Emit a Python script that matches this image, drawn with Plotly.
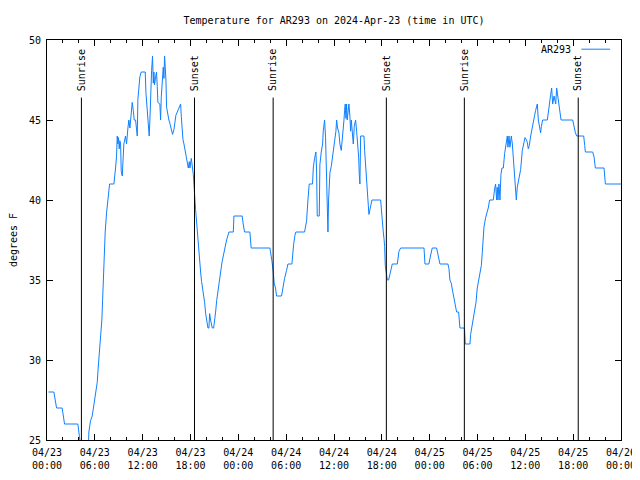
import plotly.graph_objects as go
import pandas as pd

# ---------------- data ----------------
start_time = "2024-04-23 00:00"
end_time = "2024-04-26 00:00"

# hours since 2024-04-23 00:00 UTC
hours = [
    0.19, 0.86, 1.03, 1.20, 1.90, 2.07, 2.20, 3.87, 4.00, 4.12, 4.25, 5.17,
    5.25, 5.46, 5.67, 5.80, 6.00, 6.13, 6.30, 6.42, 6.55, 6.67, 6.80, 6.88,
    6.97, 7.05, 7.13, 7.30, 7.47, 7.64, 7.76, 7.85, 8.39, 8.47, 8.60, 8.72,
    8.81, 8.89, 8.97, 9.06, 9.14, 9.23, 9.31, 9.44, 9.52, 9.64, 9.85, 9.98,
    10.15, 10.27, 10.40, 10.48, 10.61, 10.69, 10.82, 10.94, 11.11, 11.19, 11.32, 11.40,
    11.53, 11.65, 11.82, 12.32, 12.41, 12.57, 12.70, 12.82, 12.91, 12.99, 13.12, 13.24,
    13.33, 13.41, 13.49, 13.62, 13.74, 13.83, 13.91, 14.16, 14.25, 14.33, 14.46, 14.58,
    14.67, 14.75, 14.83, 14.92, 15.00, 15.17, 15.29, 15.41, 15.58, 15.75, 15.92, 16.05,
    16.17, 16.34, 16.55, 16.76, 16.85, 16.93, 17.05, 17.18, 17.31, 17.43, 17.60, 17.72,
    17.85, 17.93, 18.10, 18.22, 18.35, 18.43, 18.51, 18.56, 18.64, 18.77, 18.93, 19.00,
    19.14, 19.27, 19.39, 19.52, 19.64, 19.77, 19.90, 20.02, 20.19, 20.31, 20.40, 20.52,
    20.73, 20.90, 20.98, 21.15, 21.28, 21.44, 21.61, 21.78, 21.95, 22.11, 22.32, 22.53,
    22.82, 23.37, 23.45, 24.48, 24.61, 24.78, 25.45, 25.53, 25.61, 27.96, 28.04, 28.21,
    28.38, 28.50, 28.67, 28.79, 29.42, 29.55, 29.67, 29.80, 30.05, 30.22, 30.72, 30.80,
    30.93, 31.10, 31.22, 32.31, 32.43, 32.56, 32.73, 32.89, 33.31, 33.40, 33.56, 33.73,
    33.81, 33.90, 34.15, 34.23, 34.40, 34.57, 34.65, 34.82, 34.94, 35.07, 35.20, 35.24,
    35.32, 35.49, 35.66, 35.78, 35.91, 36.07, 36.24, 36.33, 36.45, 36.62, 36.74, 36.91,
    37.08, 37.25, 37.33, 37.41, 37.50, 37.58, 37.66, 37.75, 37.87, 38.00, 38.08, 38.17,
    38.29, 38.42, 38.54, 38.71, 38.84, 39.00, 39.09, 39.17, 39.25, 39.34, 39.76, 39.84,
    39.97, 40.09, 40.18, 40.26, 40.38, 40.51, 40.59, 40.76, 41.85, 41.97, 42.10, 42.18,
    42.27, 42.35, 42.43, 42.56, 42.69, 42.85, 42.94, 43.02, 43.10, 43.31, 43.94, 44.02,
    44.15, 44.36, 47.29, 47.41, 47.90, 48.10, 48.32, 48.87, 49.04, 49.29, 50.29, 50.42,
    50.54, 50.71, 50.88, 51.04, 51.21, 51.38, 51.63, 51.80, 52.30, 52.38, 52.47, 53.05,
    53.14, 53.35, 53.47, 53.64, 53.81, 53.97, 54.18, 54.31, 54.48, 54.60, 54.68, 54.81,
    55.02, 55.23, 55.35, 55.52, 55.98, 56.15, 56.27, 56.40, 56.48, 56.57, 56.69, 56.82,
    56.94, 57.07, 57.24, 57.40, 57.57, 57.74, 57.82, 57.95, 58.07, 58.24, 58.37, 58.49,
    58.66, 58.78, 58.87, 58.99, 59.12, 59.24, 59.41, 59.62, 59.83, 59.96, 60.08, 60.25,
    60.37, 60.50, 60.67, 60.83, 61.00, 61.17, 61.29, 61.42, 61.50, 61.63, 61.80, 61.92,
    62.01, 62.17, 62.76, 62.89, 63.05, 63.18, 63.30, 63.43, 63.60, 63.81, 63.93, 64.06,
    64.22, 64.35, 64.48, 65.94, 66.11, 66.28, 66.44, 67.32, 67.45, 67.53, 68.45, 68.62,
    68.78, 69.87, 70.04, 72.00,
]

temps_f = [
    28.0, 28.0, 27.5, 27.0, 27.0, 26.5, 26.0, 26.0, 25.5, 25.0, 24.0, 24.0,
    25.5, 26.2, 26.5, 27.0, 27.5, 28.0, 28.6, 29.5, 30.3, 31.0, 31.6, 32.5,
    33.7, 35.0, 36.3, 38.0, 39.2, 39.9, 40.5, 41.0, 41.0, 41.3, 42.0, 42.7,
    44.0, 43.5, 43.9, 43.2, 43.7, 43.5, 41.8, 41.5, 43.0, 43.5, 44.0, 43.5,
    44.5, 45.0, 44.5, 45.0, 45.6, 46.1, 45.6, 45.0, 45.0, 44.5, 44.0, 46.3,
    47.0, 47.7, 48.0, 48.0, 46.7, 45.8, 45.0, 44.0, 45.0, 46.6, 48.1, 49.0,
    47.3, 48.0, 47.2, 47.7, 48.0, 47.1, 46.1, 46.0, 45.0, 46.4, 47.3, 48.3,
    47.6, 49.0, 48.3, 47.5, 45.8, 45.2, 45.0, 44.8, 44.5, 44.1, 44.4, 45.0,
    45.3, 45.5, 45.8, 46.0, 45.2, 44.5, 43.8, 43.5, 43.1, 42.9, 42.5, 42.0,
    42.4, 42.0, 42.6, 42.2, 41.6, 41.0, 40.6, 40.0, 39.4, 38.5, 38.0, 37.4,
    36.3, 35.5, 34.9, 34.5, 34.0, 33.6, 32.9, 32.5, 32.0, 32.0, 32.9, 32.5,
    32.0, 32.0, 32.5, 33.0, 33.7, 34.3, 35.0, 35.6, 36.1, 36.5, 37.1, 37.5,
    38.0, 38.0, 39.0, 39.0, 38.5, 38.0, 38.0, 37.5, 37.0, 37.0, 36.8, 36.2,
    35.5, 34.8, 34.5, 34.0, 34.0, 34.5, 34.8, 35.1, 35.6, 36.0, 36.0, 36.6,
    37.2, 37.8, 38.0, 38.0, 38.5, 38.7, 40.0, 41.0, 41.0, 42.0, 42.6, 43.0,
    42.0, 39.0, 39.0, 42.2, 43.0, 43.5, 44.3, 45.0, 43.9, 41.6, 39.1, 38.0,
    40.0, 41.7, 42.1, 42.5, 43.0, 43.5, 44.3, 45.0, 44.5, 44.2, 43.5, 43.1,
    43.9, 45.0, 45.6, 46.0, 45.1, 46.0, 45.0, 45.6, 46.0, 45.2, 44.3, 45.0,
    44.0, 43.5, 44.6, 45.0, 44.3, 43.5, 42.7, 41.6, 41.0, 44.0, 44.0, 43.1,
    42.2, 41.0, 40.4, 39.6, 39.1, 39.4, 39.7, 40.0, 40.0, 39.1, 38.5, 38.0,
    37.6, 37.1, 35.9, 35.5, 35.0, 35.0, 35.2, 35.4, 35.7, 36.0, 36.0, 36.5,
    36.8, 37.0, 37.0, 36.0, 36.0, 36.5, 37.0, 37.0, 36.6, 36.0, 36.0, 35.7,
    35.0, 34.8, 34.3, 33.8, 33.3, 33.0, 33.0, 32.0, 32.0, 31.9, 31.0, 31.0,
    31.6, 32.3, 32.7, 33.0, 33.6, 34.5, 35.0, 35.3, 35.9, 36.7, 37.5, 38.3,
    38.9, 39.2, 39.5, 40.0, 40.0, 40.7, 41.0, 40.0, 40.8, 40.0, 41.0, 40.0,
    41.6, 42.0, 42.0, 42.9, 43.4, 44.0, 43.3, 44.0, 43.3, 44.0, 43.5, 42.5,
    41.6, 40.5, 40.0, 40.8, 41.1, 41.4, 41.9, 43.1, 43.7, 43.9, 43.8, 43.6,
    43.2, 43.4, 44.0, 44.5, 45.0, 45.3, 45.6, 45.9, 46.0, 45.0, 44.6, 44.2,
    44.6, 45.0, 45.0, 45.6, 46.2, 46.6, 47.0, 46.0, 46.5, 46.0, 47.0, 46.5,
    46.2, 45.7, 45.0, 45.0, 44.5, 44.2, 44.0, 44.0, 43.4, 43.0, 43.0, 42.7,
    42.0, 42.0, 41.0, 41.0,
]

sun_labels = ["Sunrise", "Sunset", "Sunrise", "Sunset", "Sunrise", "Sunset"]
sun_times = [
    "2024-04-23 04:19", "2024-04-23 18:30",
    "2024-04-24 04:22", "2024-04-24 18:34",
    "2024-04-25 04:21", "2024-04-25 18:38",
]

x_tick_vals = [
    "2024-04-23 00:00", "2024-04-23 06:00", "2024-04-23 12:00", "2024-04-23 18:00",
    "2024-04-24 00:00", "2024-04-24 06:00", "2024-04-24 12:00", "2024-04-24 18:00",
    "2024-04-25 00:00", "2024-04-25 06:00", "2024-04-25 12:00", "2024-04-25 18:00",
    "2024-04-26 00:00",
]
x_tick_text = [
    "04/23<br>00:00", "04/23<br>06:00", "04/23<br>12:00", "04/23<br>18:00",
    "04/24<br>00:00", "04/24<br>06:00", "04/24<br>12:00", "04/24<br>18:00",
    "04/25<br>00:00", "04/25<br>06:00", "04/25<br>12:00", "04/25<br>18:00",
    "04/26<br>00:00",
]
y_tick_vals = [25, 30, 35, 40, 45, 50]
y_range = [25, 50]
sun_line_top = 46.4

series_name = "AR293"
title_text = "Temperature for AR293 on 2024-Apr-23 (time in UTC)"
y_title = "degrees F"

# ---------------- figure ----------------
t0 = pd.Timestamp(start_time)
times = [t0 + pd.Timedelta(hours=h) for h in hours]

LINE_COLOR = "#0f80ff"
FONT = "DejaVu Sans Mono"

# page body has an 8px default margin -> figure is 632x472
FIG_W, FIG_H = 632, 472

fig = go.Figure()
fig.add_trace(go.Scatter(
    x=times, y=temps_f, mode="lines", name=series_name,
    line=dict(color=LINE_COLOR, width=1), showlegend=False,
))

for lab, t in zip(sun_labels, sun_times):
    fig.add_shape(type="line", xref="x", yref="y", x0=t, x1=t,
                  y0=y_range[0], y1=sun_line_top,
                  line=dict(color="black", width=1))
    fig.add_annotation(x=t, xref="x", y=sun_line_top + 0.3, yref="y",
                       text=lab, textangle=-90, showarrow=False,
                       xanchor="center", yanchor="bottom",
                       font=dict(family=FONT, size=10, color="black"))

# legend (text left of the line sample, like gnuplot)
fig.add_annotation(x=0.916, xref="paper", y=0.977, yref="paper",
                   text=series_name, showarrow=False,
                   xanchor="right", yanchor="middle",
                   font=dict(family=FONT, size=10, color="black"))
fig.add_shape(type="line", xref="paper", yref="paper",
              x0=0.931, x1=0.981, y0=0.977, y1=0.977,
              line=dict(color=LINE_COLOR, width=1))

fig.update_layout(
    width=FIG_W, height=FIG_H,
    margin=dict(l=39, r=19, t=32, b=40, autoexpand=False),
    paper_bgcolor="white", plot_bgcolor="white",
    showlegend=False,
    font=dict(family=FONT, size=10, color="black"),
    title=dict(text=title_text, x=0.5, xref="paper", xanchor="center",
               y=1 - 12 / FIG_H, yref="container", yanchor="middle",
               automargin=False,
               font=dict(family=FONT, size=10, color="black")),
)

fig.update_xaxes(
    type="date", range=[start_time, end_time], automargin=False,
    tickmode="array", tickvals=x_tick_vals, ticktext=x_tick_text,
    ticks="inside", ticklen=6, tickwidth=1, tickcolor="black",
    showline=True, linecolor="black", linewidth=1, mirror="ticks",
    showgrid=False, zeroline=False, ticklabelstandoff=3,
    minor=dict(ticks="inside", ticklen=3, tickwidth=1, tickcolor="black",
               dtick=2 * 3600 * 1000, tick0=start_time, showgrid=False),
    tickfont=dict(family=FONT, size=10, color="black"),
)
fig.update_yaxes(
    range=y_range, tickmode="array", tickvals=y_tick_vals, automargin=False,
    ticks="inside", ticklen=6, tickwidth=1, tickcolor="black",
    showline=True, linecolor="black", linewidth=1, mirror="ticks",
    showgrid=False, zeroline=False, ticklabelstandoff=3,
    tickfont=dict(family=FONT, size=10, color="black"),
    title=dict(text=y_title, standoff=11,
               font=dict(family=FONT, size=10, color="black")),
)

fig.write_html("out.html")
